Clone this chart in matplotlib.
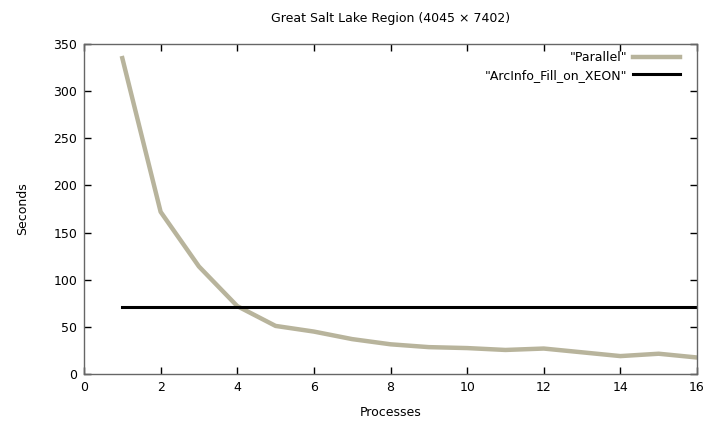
import matplotlib
matplotlib.use('Agg')
import matplotlib.pyplot as plt

# Laufzeiten je Prozessanzahl
processes = [1, 2, 3, 4, 5, 6, 7, 8, 9, 10, 11, 12, 13, 14, 15, 16]
parallel = [335, 172, 114, 72, 51, 45, 37, 31.5, 28.5, 27.5, 25.5, 27, 23, 19, 21.5, 17.5]
arcinfo = [71] * len(processes)

plt.rcParams['font.family'] = 'DejaVu Sans'
plt.rcParams['font.size'] = 9

fig = plt.figure(figsize=(7.12, 4.23), dpi=100)
ax = fig.add_axes([84 / 712, 1 - 374 / 423, 613 / 712, 330 / 423])

ax.plot(processes, parallel, color='#b8b49c', linewidth=3.2, label='"Parallel"')
ax.plot(processes, arcinfo, color='black', linewidth=2.2, label='"ArcInfo_Fill_on_XEON"')

ax.set_xlim(0, 16)
ax.set_ylim(0, 350)
ax.set_xticks(range(0, 17, 2))
ax.set_yticks(range(0, 351, 50))
ax.tick_params(direction='in', top=True, right=True, length=5, width=1, colors='black', pad=5)
for s in ax.spines.values():
    s.set_color('#666666')
    s.set_linewidth(1)

ax.set_title('Great Salt Lake Region (4045 \u00d7 7402)', fontsize=9, pad=16)
ax.set_xlabel('Processes', labelpad=9)
ax.set_ylabel('Seconds', labelpad=17)

ax.legend(loc='upper right', bbox_to_anchor=(0.98, 0.993), frameon=False, markerfirst=False,
          handlelength=3.7, borderaxespad=0, labelspacing=0.35, handletextpad=0.5, fontsize=9)

fig.savefig('out.png', dpi=100)
